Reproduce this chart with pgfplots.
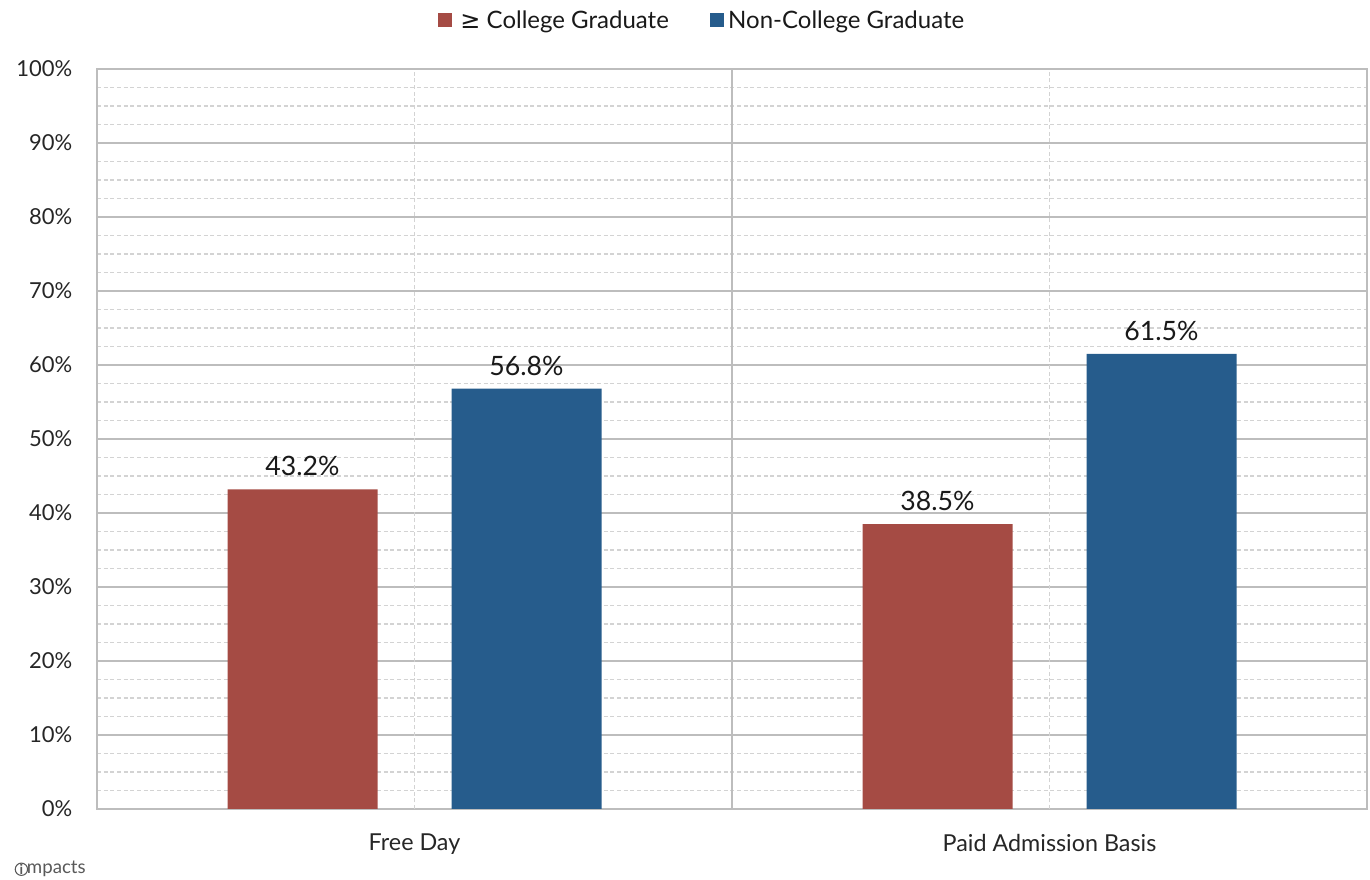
\documentclass[border=0pt]{standalone}
\usepackage{pgfplots}
\pgfplotsset{compat=1.18}
\usepackage{fontspec}
\setmainfont{Lato}
\newfontfamily\djv{DejaVu Sans}
\definecolor{cred}{HTML}{A54B44}
\definecolor{cblue}{HTML}{265C8C}
\definecolor{gmaj}{HTML}{BDBDBD}
\definecolor{gmin}{HTML}{D3D3D3}
\begin{document}
\begin{tikzpicture}
\path[use as bounding box] (0,0) rectangle (1027.5pt,660pt);
\begin{axis}[
  at={(72.75pt,53.25pt)}, anchor=south west,
  scale only axis, width=952.5pt, height=555pt,
  /pgf/number format/assume math mode=true,
  xmin=-0.5, xmax=1.5, ymin=0, ymax=100,
  ybar, bar width=112.5pt,
  axis line style={draw=gmaj, line width=1.3pt},
  ytick={0,10,...,100},
  minor ytick={2.5,5,7.5,12.5,15,17.5,22.5,25,27.5,32.5,35,37.5,42.5,45,47.5,52.5,55,57.5,62.5,65,67.5,72.5,75,77.5,82.5,85,87.5,92.5,95,97.5},
  ymajorgrids, yminorgrids,
  major grid style={draw=gmaj, line width=1.2pt},
  minor grid style={draw=gmin, line width=0.8pt, dash pattern=on 3pt off 2pt},
  yticklabel={\pgfmathprintnumber{\tick}\%},
  yticklabel style={font=\fontsize{16.5}{19}\selectfont, color=black!85, xshift=-15pt},
  ytick style={draw=none},
  xtick={0,1},
  xticklabels={Free Day, Paid Admission Basis},
  xticklabel style={font=\fontsize{17.5}{20}\selectfont, color=black!85, yshift=-11pt},
  xtick style={draw=none},
  extra x ticks={-0.5,0.5,1.5},
  extra x tick labels={,,},
  extra x tick style={grid=major, tick align=outside, major tick length=6pt,
     tick style={draw=gmaj, line width=1.3pt}},
  nodes near coords={\pgfmathprintnumber[fixed,precision=1,fixed zerofill]{\pgfplotspointmeta}\%},
  every node near coord/.append style={font=\fontsize{20}{23}\selectfont, color=black!90, yshift=6.5pt},
  legend columns=2,
  legend style={at={(0.5,1)}, anchor=south, xshift=-22pt, yshift=25pt, draw=none, fill=none,
     font=\fontsize{18}{21}\selectfont, text=black!90,
     /tikz/every even column/.append style={column sep=29pt}},
  legend image code/.code={\fill[#1] (0pt,-5.25pt) rectangle (10.5pt,5.25pt);},
]
\draw[gmin, line width=0.9pt, dash pattern=on 3pt off 2pt] (axis cs:0,0) -- (axis cs:0,100);
\draw[gmin, line width=0.9pt, dash pattern=on 3pt off 2pt] (axis cs:1,0) -- (axis cs:1,100);
\addplot[fill=cred, draw=none, bar shift=-84pt] coordinates {(0,43.2) (1,38.5)};
\addlegendentry{\hspace{4pt}{\djv ≥} College Graduate}
\addplot[fill=cblue, draw=none, bar shift=84pt] coordinates {(0,56.8) (1,61.5)};
\addlegendentry{\hspace{1pt}Non-College Graduate}
\end{axis}
\node[anchor=base west, inner sep=0pt, font=\fontsize{14}{16}\selectfont, text=black!65] (m) at (20pt,4.5pt) {mpacts};
\node[draw=black!65, circle, line width=0.8pt, inner sep=0.4pt, font=\fontsize{10.5}{12}\selectfont\bfseries, text=black!65, anchor=south east] at ([xshift=-0.4pt]m.base west) {i};
\end{tikzpicture}
\end{document}
